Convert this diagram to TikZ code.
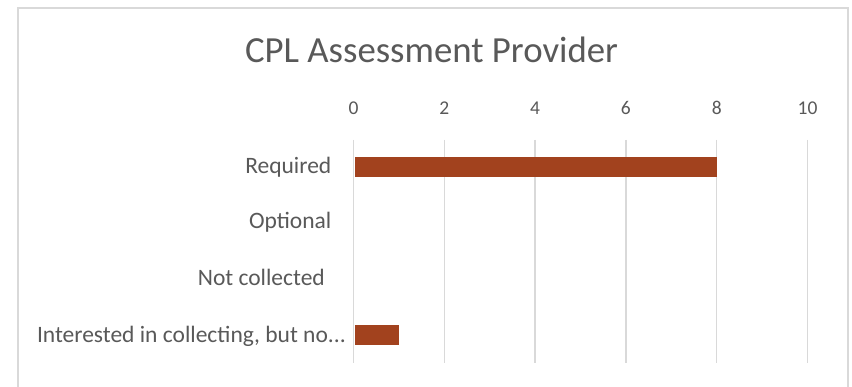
\documentclass[tikz,border=0pt]{standalone}
\usepackage{fontspec}
\setmainfont{Carlito}
\definecolor{txtgray}{RGB}{89,89,89}
\definecolor{gridgray}{RGB}{217,217,217}
\definecolor{barcol}{RGB}{162,66,30}
\begin{document}
\begin{tikzpicture}[x=1pt,y=-1pt,
  gridline/.style={draw=gridgray,line width=1.3pt},
  ticklab/.style={text=txtgray,font=\fontsize{19.5}{22}\selectfont,inner sep=0pt,anchor=base},
  catlab/.style={text=txtgray,font=\fontsize{23.5}{26}\selectfont,inner sep=0pt,anchor=base east},
  barbox/.style={fill=barcol,draw=none}]
\useasboundingbox (0,0) rectangle (852,387);
\clip (0,0) rectangle (852,387);
\fill[white] (0,0) rectangle (852,387);
\draw[gridgray,line width=1.2pt] (18,8) rectangle (848,420);
\node[text=txtgray,font=\fontsize{36.8}{40}\selectfont,inner sep=0pt,anchor=base] (title) at (431.5,63) {CPL Assessment Provider};
% gridlines and tick labels
\foreach \v/\x in {0/353.5,2/444.3,4/535.1,6/625.9,8/716.7,10/807.5}{
  \draw[gridline] (\x,140) -- (\x,363);
  \node[ticklab] (t\v) at (\x,115) {\v};
}
% bars
\fill[barcol] (355,156.7) rectangle (716.7,176.7);
\fill[barcol] (355,325) rectangle (399,345);
% category labels
\node[catlab] (c1) at (331.5,174) {Required};
\node[catlab] (c2) at (331.5,229) {Optional};
\node[catlab] (c3) at (325,285.5) {Not collected};
\node[catlab] (c4) at (346,342.7) {Interested in collecting, but no...};
\end{tikzpicture}
\end{document}
